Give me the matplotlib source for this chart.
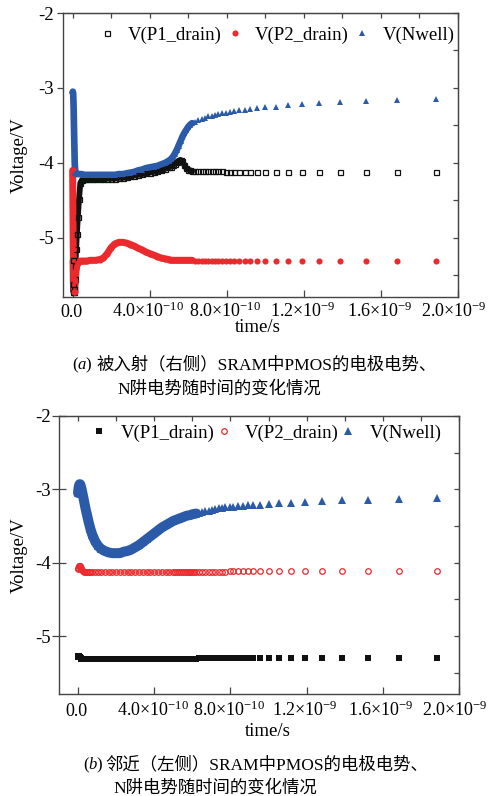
import numpy as np
import matplotlib
matplotlib.use("Agg")
import matplotlib.pyplot as plt
import matplotlib.transforms as mtransforms
from matplotlib.ticker import MultipleLocator, NullFormatter

plt.rcParams['font.family'] = ['Liberation Serif', 'Noto Sans CJK SC']
plt.rcParams['mathtext.fontset'] = 'custom'
plt.rcParams['mathtext.rm'] = 'Liberation Serif'
plt.rcParams['mathtext.it'] = 'Liberation Serif:italic'
plt.rcParams['mathtext.bf'] = 'Liberation Serif:bold'
plt.rcParams['axes.unicode_minus'] = False

# ---------------- data ----------------
# simulation time points, in units of 1e-10 s
time_e10 = [0, 0.01, 0.03, 0.05, 0.08, 0.11, 0.14, 0.18, 0.22, 0.27,
            0.33, 0.4, 0.48, 0.56, 0.65, 0.75, 0.9, 1.05, 1.2, 1.4,
            1.6, 1.8, 2.0, 2.2, 2.4, 2.6, 2.8, 3.0, 3.2, 3.4,
            3.6, 3.8, 4.0, 4.2, 4.4, 4.6, 4.8, 5.0, 5.1, 5.2,
            5.3, 5.4, 5.5, 5.6, 5.7, 5.8, 5.9, 6.0, 6.1, 6.2,
            6.35, 6.52, 6.69, 6.86, 7.04, 7.21, 7.38, 7.56, 7.73, 7.96,
            8.16, 8.39, 8.64, 8.94, 9.2, 9.55, 10.0, 10.55, 11.17, 11.9,
            12.8, 13.87, 15.2, 16.85, 18.84]

# (a) struck (right) SRAM
a_p1_drain = [-5.30, -5.62, -5.72, -5.72, -5.68, -5.55, -5.38, -5.15, -4.95, -4.72,
              -4.48, -4.27, -4.23, -4.22, -4.22, -4.22, -4.22, -4.22, -4.22, -4.22,
              -4.22, -4.21, -4.21, -4.21, -4.20, -4.20, -4.19, -4.18, -4.17, -4.16,
              -4.15, -4.14, -4.13, -4.12, -4.11, -4.10, -4.08, -4.06, -4.05, -4.03,
              -4.01, -3.99, -3.97, -3.96, -3.98, -4.03, -4.07, -4.09, -4.10, -4.11,
              -4.11, -4.11, -4.11, -4.11, -4.11, -4.11, -4.11, -4.11, -4.11, -4.12,
              -4.12, -4.12, -4.12, -4.12, -4.12, -4.12, -4.12, -4.12, -4.12, -4.12,
              -4.12, -4.12, -4.12, -4.12, -4.12]
a_p2_drain = [-4.10, -4.45, -5.15, -5.55, -5.72, -5.72, -5.58, -5.42, -5.36, -5.33,
              -5.32, -5.31, -5.31, -5.31, -5.31, -5.31, -5.30, -5.30, -5.30, -5.29,
              -5.27, -5.21, -5.13, -5.08, -5.06, -5.06, -5.07, -5.09, -5.11, -5.14,
              -5.16, -5.19, -5.21, -5.23, -5.25, -5.27, -5.28, -5.29, -5.30, -5.30,
              -5.30, -5.30, -5.30, -5.30, -5.30, -5.30, -5.30, -5.30, -5.30, -5.30,
              -5.31, -5.31, -5.31, -5.31, -5.31, -5.31, -5.31, -5.31, -5.31, -5.31,
              -5.31, -5.31, -5.31, -5.31, -5.31, -5.31, -5.31, -5.31, -5.31, -5.31,
              -5.31, -5.31, -5.31, -5.31, -5.31]
a_nwell = [-3.06, -3.05, -3.08, -3.25, -3.65, -4.02, -4.13, -4.14, -4.15, -4.15,
           -4.15, -4.15, -4.15, -4.16, -4.16, -4.16, -4.16, -4.16, -4.16, -4.16,
           -4.16, -4.16, -4.16, -4.16, -4.15, -4.15, -4.14, -4.13, -4.12, -4.10,
           -4.09, -4.07, -4.06, -4.05, -4.04, -4.02, -4.00, -3.97, -3.95, -3.92,
           -3.88, -3.83, -3.77, -3.71, -3.65, -3.60, -3.56, -3.52, -3.49, -3.47,
           -3.45, -3.43, -3.41, -3.395, -3.38, -3.37, -3.36, -3.35, -3.34, -3.33,
           -3.32, -3.31, -3.30, -3.29, -3.28, -3.27, -3.26, -3.25, -3.23, -3.21,
           -3.20, -3.19, -3.17, -3.16, -3.15]

# (b) neighbouring (left) SRAM
b_p1_drain = [-5.28, -5.27, -5.27, -5.27, -5.28, -5.29, -5.30, -5.31, -5.31, -5.31,
              -5.31, -5.31, -5.31, -5.31, -5.31, -5.31, -5.31, -5.31, -5.31, -5.31,
              -5.31, -5.31, -5.31, -5.31, -5.31, -5.31, -5.31, -5.31, -5.31, -5.31,
              -5.31, -5.31, -5.31, -5.31, -5.31, -5.31, -5.31, -5.31, -5.31, -5.31,
              -5.31, -5.31, -5.31, -5.31, -5.31, -5.31, -5.31, -5.31, -5.31, -5.31,
              -5.30, -5.30, -5.30, -5.30, -5.30, -5.30, -5.30, -5.30, -5.30, -5.30,
              -5.30, -5.30, -5.30, -5.30, -5.30, -5.30, -5.30, -5.30, -5.30, -5.30,
              -5.30, -5.30, -5.30, -5.30, -5.30]
b_p2_drain = [-4.09, -4.07, -4.05, -4.04, -4.04, -4.05, -4.07, -4.09, -4.10, -4.11,
              -4.12, -4.12, -4.13, -4.13, -4.13, -4.13, -4.13, -4.13, -4.13, -4.13,
              -4.13, -4.13, -4.13, -4.13, -4.13, -4.13, -4.13, -4.13, -4.13, -4.13,
              -4.13, -4.13, -4.13, -4.13, -4.13, -4.13, -4.13, -4.12, -4.12, -4.12,
              -4.12, -4.12, -4.12, -4.12, -4.12, -4.12, -4.12, -4.12, -4.12, -4.12,
              -4.12, -4.12, -4.12, -4.12, -4.12, -4.12, -4.12, -4.12, -4.12, -4.11,
              -4.11, -4.11, -4.11, -4.11, -4.11, -4.11, -4.11, -4.11, -4.11, -4.11,
              -4.11, -4.11, -4.11, -4.11, -4.11]
b_nwell = [-3.05, -3.02, -2.98, -2.95, -2.93, -2.93, -2.95, -2.99, -3.04, -3.10,
           -3.18, -3.27, -3.36, -3.45, -3.54, -3.62, -3.71, -3.77, -3.81, -3.84,
           -3.86, -3.87, -3.87, -3.87, -3.85, -3.84, -3.82, -3.79, -3.76, -3.72,
           -3.68, -3.64, -3.60, -3.56, -3.52, -3.49, -3.46, -3.43, -3.42, -3.41,
           -3.40, -3.39, -3.38, -3.37, -3.36, -3.355, -3.35, -3.34, -3.335, -3.33,
           -3.32, -3.31, -3.30, -3.29, -3.28, -3.27, -3.26, -3.25, -3.245, -3.24,
           -3.235, -3.23, -3.225, -3.22, -3.215, -3.21, -3.20, -3.19, -3.18, -3.17,
           -3.16, -3.15, -3.14, -3.13, -3.12]

series_labels = ['V(P1_drain)', 'V(P2_drain)', 'V(Nwell)']

xtick_values = [0, 4e-10, 8e-10, 1.2e-9, 1.6e-9, 2.0e-9]
xtick_labels = ['0.0', r'$4.0{\times}10^{-10}$', r'$8.0{\times}10^{-10}$',
                r'$1.2{\times}10^{-9}$', r'$1.6{\times}10^{-9}$', r'$2.0{\times}10^{-9}$']
ytick_values = [-2, -3, -4, -5]
ytick_labels = ['-2', '-3', '-4', '-5']

caption_a = ['被入射（右侧）SRAM中PMOS的电极电势、', 'N阱电势随时间的变化情况']
caption_b = ['邻近（左侧）SRAM中PMOS的电极电势、', 'N阱电势随时间的变化情况']

# ---------------- drawing ----------------
BLUE = '#2b5aa8'
RED = '#ea2a2c'
BLACK = '#111111'
SPINE = '#444444'
FS = 13.5

W, H = 488, 796
fig = plt.figure(figsize=(W / 100, H / 100), dpi=100)


def fx(px):
    return px / W


def fy(py):
    return 1 - py / H


t = np.array(time_e10) * 1e-10
dense = np.array(time_e10) <= 6.25


def style_axes(ax, xlim, left_dir, left_len, left_pad, xpad):
    ax.set_xlim(*xlim)
    ax.set_ylim(-5.79, -2.0)
    ax.set_xticks(xtick_values)
    ax.set_xticklabels(xtick_labels)
    ax.set_yticks(ytick_values)
    ax.set_yticklabels(ytick_labels)
    ax.tick_params(axis='x', direction='in', length=5, width=0.9, color=SPINE,
                   labelsize=13, pad=xpad, top=False)
    labels = ax.get_xticklabels()
    for i, lab in enumerate(labels):
        lab.set_verticalalignment('baseline')
        shift = -4 if i == len(labels) - 1 else -1.5
        lab.set_transform(lab.get_transform() + mtransforms.ScaledTranslation(
            shift / 100, 0, fig.dpi_scale_trans))
    ax.tick_params(axis='y', direction=left_dir, length=left_len, width=0.9,
                   color=SPINE, labelsize=FS, pad=left_pad, right=False)
    for s in ax.spines.values():
        s.set_color(SPINE)
        s.set_linewidth(1.0)
    top = ax.secondary_xaxis('top')
    top.xaxis.set_major_locator(MultipleLocator(2e-10))
    top.xaxis.set_major_formatter(NullFormatter())
    top.tick_params(direction='in', length=3.5, width=0.9, color=SPINE)
    top.spines['top'].set_color(SPINE)
    right = ax.secondary_yaxis('right')
    right.yaxis.set_major_locator(MultipleLocator(0.5))
    right.yaxis.set_major_formatter(NullFormatter())
    right.tick_params(direction='in', length=3.5, width=0.9, color=SPINE)
    right.spines['right'].set_color(SPINE)


def draw_series(ax, y, color, marker, ms, filled, band_lw, band_alpha, label):
    y = np.array(y)
    ax.plot(t[dense], y[dense], '-', color=color, lw=band_lw, alpha=band_alpha,
            solid_capstyle='round', solid_joinstyle='round', zorder=2)
    if filled:
        h, = ax.plot(t, y, linestyle='none', marker=marker, ms=ms, mfc=color,
                     mec=color, mew=0, label=label, zorder=3)
    else:
        h, = ax.plot(t, y, linestyle='none', marker=marker, ms=ms, mfc='none',
                     mec=color, mew=0.9, label=label, zorder=3)
    return h


# panel (a)
ax_a = fig.add_axes([fx(63), fy(297), fx(458) - fx(63), fy(13) - fy(297)])
ha = [
    draw_series(ax_a, a_p1_drain, BLACK, 's', 3.6, False, 4.2, 1.0, series_labels[0]),
    draw_series(ax_a, a_p2_drain, RED, 'o', 4.4, True, 5.0, 1.0, series_labels[1]),
    draw_series(ax_a, a_nwell, BLUE, '^', 4.4, True, 4.8, 1.0, series_labels[2]),
]
style_axes(ax_a, (-0.05e-9, 2.0e-9), 'out', 4, 2.5, 14.2)
ax_a.legend(handles=ha, loc='center right', bbox_to_anchor=(0.992, 0.9225),
            ncol=3, frameon=False, fontsize=FS, handlelength=1.0,
            handletextpad=0.6, columnspacing=0.2, borderpad=0,
            borderaxespad=0, numpoints=1)

# panel (b)
ax_b = fig.add_axes([fx(59), fy(694), fx(459) - fx(59), fy(416) - fy(694)])
hb = [
    draw_series(ax_b, b_p1_drain, BLACK, 's', 4.0, True, 4.0, 1.0, series_labels[0]),
    draw_series(ax_b, b_p2_drain, RED, 'o', 4.0, False, 2.8, 0.55, series_labels[1]),
    draw_series(ax_b, b_nwell, BLUE, '^', 5.6, True, 7.2, 1.0, series_labels[2]),
]
style_axes(ax_b, (-0.1e-9, 2.0e-9), 'inout', 10, 1.0, 16.1)
ax_b.legend(handles=hb, loc='center right', bbox_to_anchor=(0.9575, 0.939),
            ncol=3, frameon=False, fontsize=FS, handlelength=0.8,
            handletextpad=0.75, columnspacing=0.1, borderpad=0,
            borderaxespad=0, numpoints=1)

# axis titles
for yc in (155, 555):
    fig.text(fx(19), fy(yc), 'Voltage/V', rotation=90, ha='center', va='center',
             fontsize=FS)
fig.text(fx(258), fy(327), 'time/s', ha='center', va='center', fontsize=FS)
fig.text(fx(268), fy(732), 'time/s', ha='center', va='center', fontsize=FS)

# captions
cap_font = dict(fontsize=12.5, va='baseline', ha='left')
tag_font = dict(fontsize=12, va='baseline', ha='left')
fig.text(fx(72), fy(369.5), r'$(a)$', **tag_font)
fig.text(fx(96), fy(369.5), caption_a[0], **cap_font)
fig.text(fx(117), fy(393.5), caption_a[1], **cap_font)
fig.text(fx(83), fy(769.5), r'$(b)$', **tag_font)
fig.text(fx(105), fy(769.5), caption_b[0], **cap_font)
fig.text(fx(113), fy(792.5), caption_b[1], **cap_font)

fig.savefig('out.png', dpi=100)
